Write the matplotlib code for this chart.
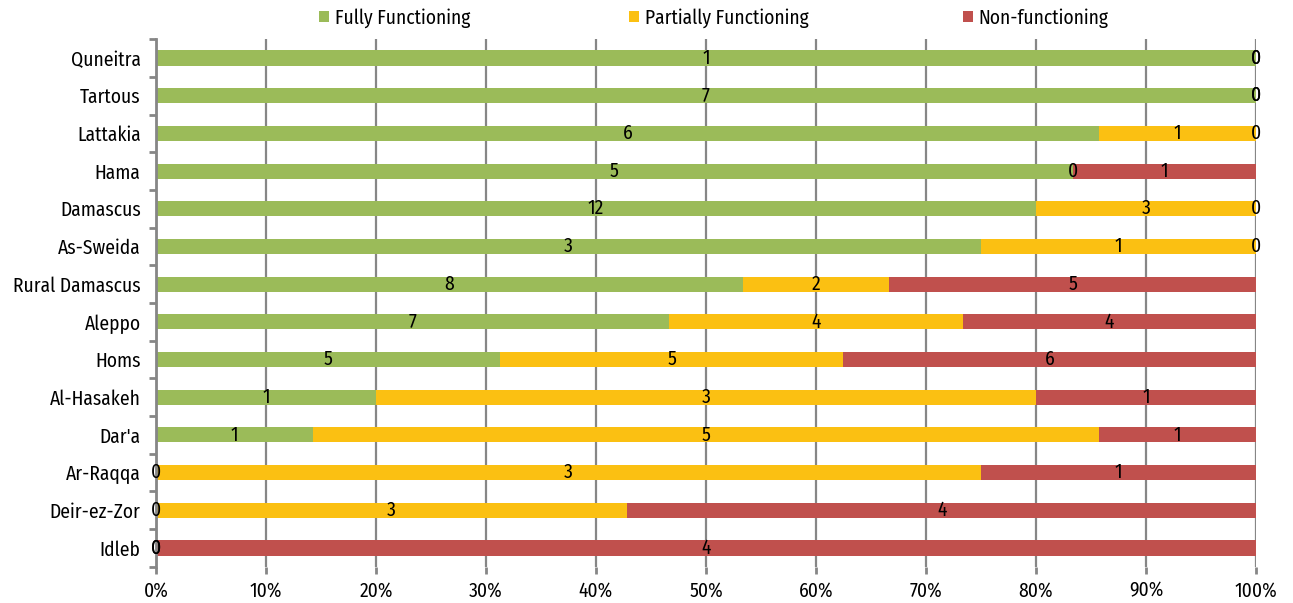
import matplotlib
matplotlib.use("Agg")
import matplotlib.pyplot as plt
import numpy as np
from matplotlib.patches import Patch

plt.rcParams['font.family'] = ['Fira Sans Condensed', 'DejaVu Sans']
plt.rcParams['font.weight'] = 'normal'

regions = ["Quneitra", "Tartous", "Lattakia", "Hama", "Damascus", "As-Sweida",
           "Rural Damascus", "Aleppo", "Homs", "Al-Hasakeh", "Dar'a", "Ar-Raqqa",
           "Deir-ez-Zor", "Idleb"]
fully = [1, 7, 6, 5, 12, 3, 8, 7, 5, 1, 1, 0, 0, 0]
partial = [0, 0, 1, 0, 3, 1, 2, 4, 5, 3, 5, 3, 3, 0]
nonfunc = [0, 0, 0, 1, 0, 0, 5, 4, 6, 1, 1, 1, 4, 4]
series_names = ["Fully Functioning", "Partially Functioning", "Non-functioning"]
colors = ["#9BBB59", "#FBC012", "#C0504D"]
xticklabels = ["0%", "10%", "20%", "30%", "40%", "50%", "60%", "70%", "80%", "90%", "100%"]

counts = np.array([fully, partial, nonfunc], dtype=float)
totals = counts.sum(axis=0)
pct = counts / totals * 100

FS = 14
fig = plt.figure(figsize=(12.93, 6.03), dpi=100)
ax = fig.add_axes([0.1206, 0.0600, 0.8508, 0.8751])

y = np.arange(len(regions))
left = np.zeros(len(regions))
grid_c = "#868686"
for i in range(3):
    bars = ax.barh(y, pct[i], left=left, height=0.4, color=colors[i], zorder=3,
                   edgecolor='none', label=series_names[i])
    ax.bar_label(bars, labels=[str(int(v)) for v in counts[i]], label_type='center',
                 fontsize=FS, color='black', zorder=5)
    left = left + pct[i]

ax.set_xlim(0, 100)
ax.set_ylim(len(regions) - 0.5, -0.5)
ax.set_xticks(np.arange(0, 101, 10))
ax.set_xticklabels(xticklabels, fontsize=FS)
ax.set_yticks(y)
ax.set_yticklabels(regions, fontsize=FS)
ax.set_yticks(np.arange(-0.5, len(regions), 1), minor=True)
ax.tick_params(axis='y', which='major', length=0, pad=11)
ax.tick_params(axis='y', which='minor', length=5, width=2, color=grid_c, direction='out')
ax.tick_params(axis='x', length=5, width=2, color=grid_c, pad=5)
ax.xaxis.grid(True, color=grid_c, linewidth=1.6, zorder=0)
ax.set_axisbelow(True)
for s in ['top', 'right', 'bottom']:
    ax.spines[s].set_visible(False)
ax.spines['left'].set_color(grid_c)
ax.spines['left'].set_linewidth(2)
ax.spines['left'].set_zorder(4)

xs = [0.2467, 0.4865, 0.7448]
for i in range(3):
    h = Patch(facecolor=colors[i], edgecolor='none')
    fig.legend([h], [series_names[i]], loc='center left',
               bbox_to_anchor=(xs[i], 0.970), frameon=False, fontsize=FS,
               handlelength=0.5, handleheight=0.5, handletextpad=0.3,
               borderpad=0, borderaxespad=0)

fig.savefig("out.png", dpi=100)
